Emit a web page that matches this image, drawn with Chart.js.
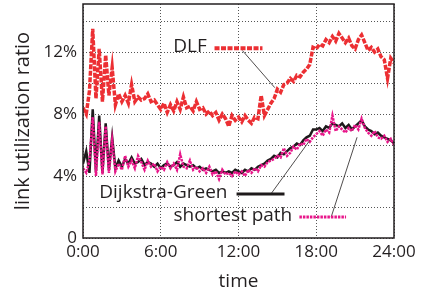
<!DOCTYPE html>
<html><head><meta charset="utf-8">
<script src="https://cdn.jsdelivr.net/npm/chart.js@4/dist/chart.umd.min.js"></script>
<style>html,body{margin:0;padding:0;background:#fff;}canvas{display:block;}</style>
</head><body>
<canvas id="c" width="422" height="293"></canvas>
<script>
// time in hours, 15-minute steps
const hours = Array.from({length: 97}, (_, i) => i / 4);
const dlf = [8.4,8.0,9.5,13.5,9.0,12.2,8.8,11.8,9.2,11.0,8.6,9.3,8.8,9.2,8.7,9.9,8.8,9.1,8.9,9.0,9.3,8.8,8.9,8.6,
  8.3,8.7,8.1,8.6,8.2,8.8,8.3,9.1,8.4,8.5,8.2,8.8,8.3,8.4,8.0,8.2,7.9,8.1,7.6,8.0,7.7,7.2,7.9,7.6,
  7.8,7.5,7.9,7.6,7.4,7.8,7.7,9.2,7.9,8.3,8.7,9.0,9.6,9.4,9.9,10.0,10.3,10.1,10.5,10.4,10.7,10.9,11.2,12.3,
  12.2,12.5,12.4,12.8,12.6,13.0,12.7,13.2,12.9,12.6,12.9,12.4,12.2,12.8,13.1,12.6,12.1,12.3,12.0,12.2,11.7,11.5,10.3,11.6,11.3];
const dijkstraGreen = [4.8,5.6,4.2,8.3,4.3,7.9,4.2,7.4,4.4,6.5,4.5,5.0,4.6,5.1,4.8,5.2,4.8,4.9,5.1,4.7,4.9,4.8,4.6,4.8,
  4.5,4.7,4.8,4.6,4.7,4.9,4.6,4.8,4.7,4.6,4.7,4.5,4.6,4.4,4.5,4.4,4.3,4.4,4.2,4.3,4.2,4.3,4.2,4.4,
  4.3,4.2,4.4,4.3,4.5,4.4,4.6,4.7,4.8,5.0,5.1,5.3,5.2,5.5,5.4,5.6,5.8,5.9,6.1,6.0,6.3,6.5,6.6,7.0,
  7.0,7.1,6.9,7.2,7.1,7.4,7.3,7.2,7.4,7.1,7.3,7.0,7.2,7.4,7.6,7.2,7.0,6.9,6.7,6.8,6.6,6.5,6.4,6.3,6.1];
const shortestPath = [4.5,4.2,5.0,7.8,4.0,7.5,4.1,7.2,4.2,6.3,4.3,4.8,4.4,5.3,4.6,5.0,4.5,5.3,4.9,4.4,5.0,4.6,4.8,4.3,
  4.6,4.4,4.9,4.5,4.8,4.4,5.4,4.6,4.5,5.0,4.4,4.6,4.3,4.5,4.2,4.6,4.1,4.3,3.8,4.4,4.1,4.2,4.0,4.3,
  4.1,4.3,4.0,4.4,4.2,4.5,4.3,4.7,4.6,4.9,5.0,5.1,5.3,5.2,5.8,5.3,5.5,5.9,5.7,6.1,6.0,6.4,6.2,6.5,
  6.7,6.9,6.6,7.0,6.8,7.9,6.9,7.2,7.0,6.8,7.1,6.9,7.3,7.0,7.7,7.1,6.8,6.6,6.9,6.5,6.4,6.6,6.2,6.4,6.0];
const xTickLabels = {0:'0:00',6:'6:00',12:'12:00',18:'18:00',24:'24:00'};
const yTickLabels = {0:'0',4:'4%',8:'8%',12:'12%'};
const seriesNames = ['DLF','Dijkstra-Green','shortest path'];

const FONT = "'Open Sans', 'Liberation Sans', sans-serif";
const TXT = '#231f20';

// in-plot labels with sample lines and leader lines (data coordinates)
const labelSpecs = [
  {name: seriesNames[0], textRight: 9.55, textY: 12.35, sample: [10.15, 13.85, 12.25], leader: [12.3, 12.1, 14.8, 9.7]},
  {name: seriesNames[1], textRight: 11.15, textY: 2.95, sample: [11.85, 15.55, 2.84], leader: [14.5, 2.84, 17.5, 6.3]},
  {name: seriesNames[2], textRight: 16.15, textY: 1.45, sample: [16.7, 20.3, 1.35], leader: [19.15, 1.35, 21.15, 6.5]}
];

const styles = [
  {color: '#ec2f33', width: 3.5, dash: [5, 1.5]},
  {color: '#1e1a1b', width: 2.5, dash: []},
  {color: '#e8168a', width: 2.5, dash: [2.5, 1]}
];

const boxPlugin = {
  id: 'box',
  afterDraw(chart) {
    const {ctx, chartArea: a, scales: {x, y}} = chart;
    ctx.save();
    ctx.strokeStyle = TXT; ctx.lineWidth = 1.5;
    ctx.strokeRect(a.left, a.top, a.right - a.left, a.bottom - a.top);
    labelSpecs.forEach((s, i) => {
      const st = styles[i];
      ctx.setLineDash([]);
      ctx.strokeStyle = TXT; ctx.lineWidth = 0.8;
      ctx.beginPath();
      ctx.moveTo(x.getPixelForValue(s.leader[0]), y.getPixelForValue(s.leader[1]));
      ctx.lineTo(x.getPixelForValue(s.leader[2]), y.getPixelForValue(s.leader[3]));
      ctx.stroke();
      ctx.strokeStyle = st.color; ctx.lineWidth = st.width + 0.5; ctx.setLineDash(st.dash);
      ctx.beginPath();
      ctx.moveTo(x.getPixelForValue(s.sample[0]), y.getPixelForValue(s.sample[2]));
      ctx.lineTo(x.getPixelForValue(s.sample[1]), y.getPixelForValue(s.sample[2]));
      ctx.stroke();
      ctx.setLineDash([]);
      ctx.fillStyle = TXT;
      ctx.font = '19px ' + FONT;
      ctx.textAlign = 'right'; ctx.textBaseline = 'middle';
      ctx.fillText(s.name, x.getPixelForValue(s.textRight), y.getPixelForValue(s.textY));
    });
    ctx.restore();
  }
};

const mk = (arr) => hours.map((h, i) => ({x: h, y: arr[i]}));

new Chart(document.getElementById('c'), {
  type: 'line',
  data: {
    datasets: [
      {label: seriesNames[0], data: mk(dlf), borderColor: styles[0].color, borderWidth: styles[0].width, borderDash: styles[0].dash, order: 1},
      {label: seriesNames[1], data: mk(dijkstraGreen), borderColor: styles[1].color, borderWidth: styles[1].width, order: 3},
      {label: seriesNames[2], data: mk(shortestPath), borderColor: styles[2].color, borderWidth: styles[2].width, borderDash: styles[2].dash, order: 2}
    ]
  },
  options: {
    responsive: false, animation: false, devicePixelRatio: 1,
    elements: {point: {radius: 0}, line: {tension: 0, fill: false}},
    layout: {padding: {left: 0, top: 4, right: 28, bottom: 0}},
    plugins: {legend: {display: false}, tooltip: {enabled: false}},
    scales: {
      x: {
        type: 'linear', min: 0, max: 24,
        afterFit(s) { s.height = 55; s.paddingLeft = 0; s.paddingRight = 0; },
        ticks: {stepSize: 6, color: TXT, font: {family: FONT, size: 17}, padding: 4, maxRotation: 0,
          callback: v => xTickLabels[v] ?? ''},
        grid: {color: '#555', lineWidth: 1, drawTicks: false, tickLength: 0},
        border: {display: false, dash: [1, 2]},
        title: {display: true, text: 'time', color: TXT, font: {family: FONT, size: 19}, padding: {top: 0, bottom: 0}}
      },
      y: {
        min: 0, max: 15.1,
        afterFit(s) { s.width = 83; s.paddingTop = 0; s.paddingBottom = 0; },
        afterBuildTicks(s) { s.ticks = [0,2,4,6,8,10,12,14].map(v => ({value: v})); },
        ticks: {color: TXT, font: {family: FONT, size: 17}, padding: 6,
          callback: v => yTickLabels[v] ?? ''},
        grid: {color: '#555', lineWidth: 1, drawTicks: false},
        border: {display: false, dash: [1, 2]},
        title: {display: true, text: 'link utilization ratio', color: TXT, font: {family: FONT, size: 20}, padding: {top: 11, bottom: 0}}
      }
    }
  },
  plugins: [boxPlugin]
});
</script>
</body></html>
